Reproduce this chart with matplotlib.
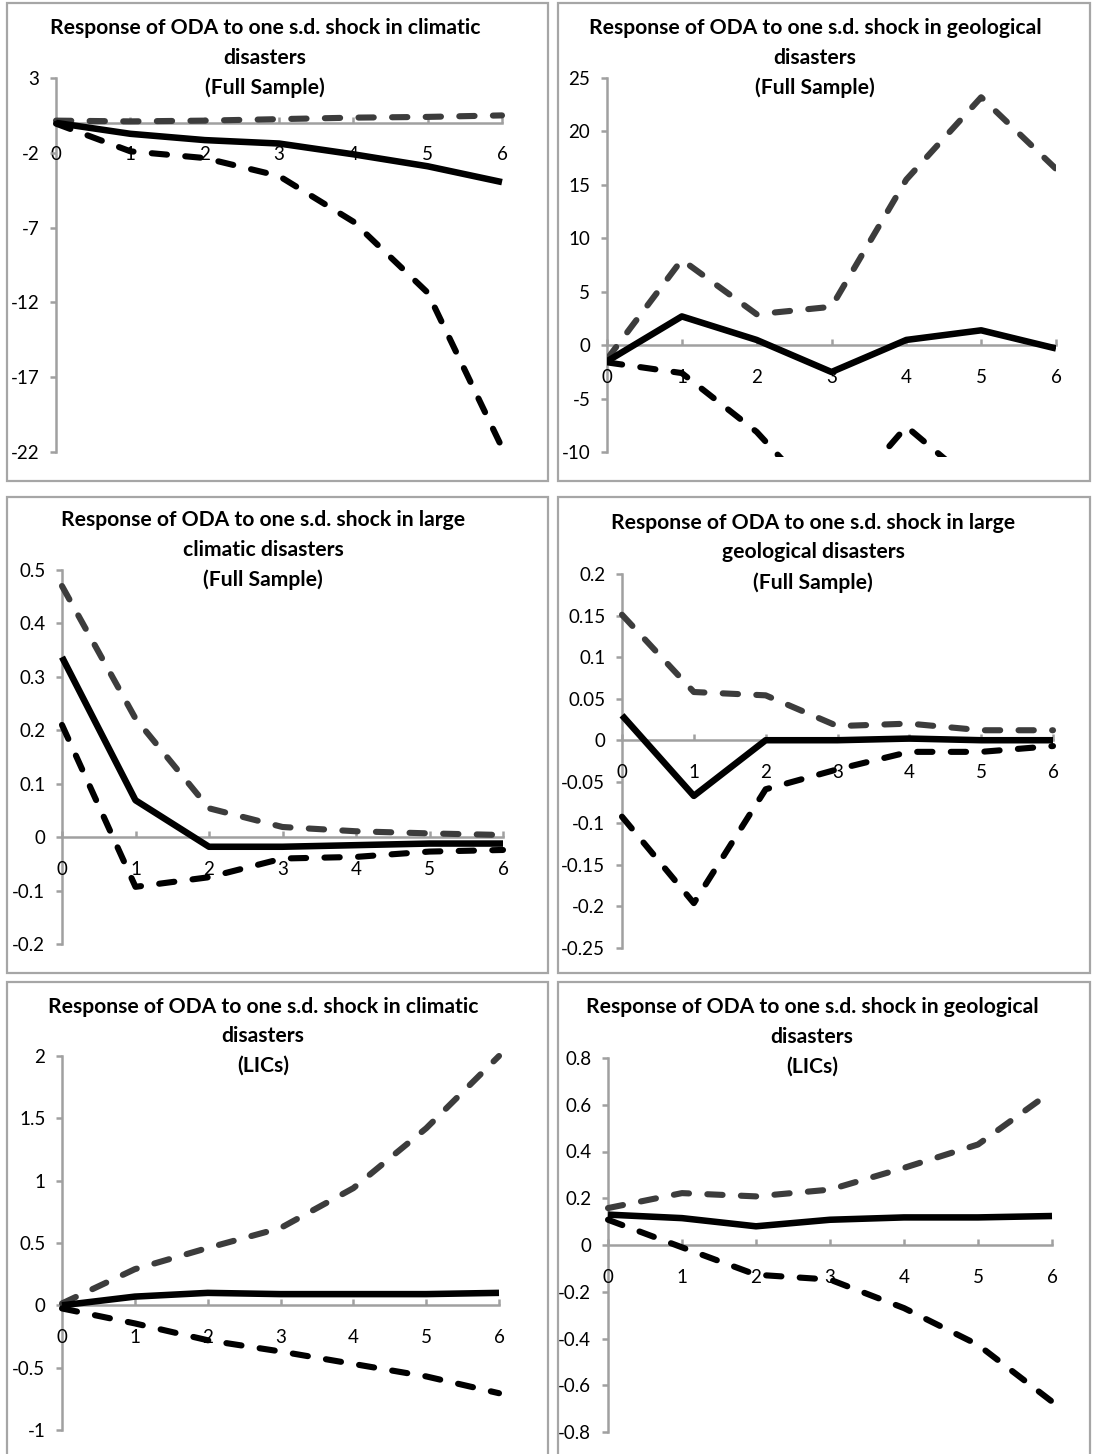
import matplotlib
matplotlib.use("Agg")
import matplotlib.pyplot as plt
from matplotlib.patches import Rectangle

plt.rcParams["font.family"] = ["Lato", "DejaVu Sans"]

W, H = 1093, 1454

# --- data ---
horizon = [0, 1, 2, 3, 4, 5, 6]

titles = [
    ["Response of ODA to one s.d. shock in climatic", "disasters", "(Full Sample)"],
    ["Response of ODA to one s.d. shock in geological", "disasters", "(Full Sample)"],
    ["Response of ODA to one s.d. shock in large", "climatic disasters", "(Full Sample)"],
    ["Response of ODA to one s.d. shock in large", "geological disasters", "(Full Sample)"],
    ["Response of ODA to one s.d. shock in climatic", "disasters", "(LICs)"],
    ["Response of ODA to one s.d. shock in geological", "disasters", "(LICs)"],
]

irf_clim_full = [0.0, -0.73, -1.15, -1.38, -2.1, -2.9, -3.96]
up_clim_full = [0.15, 0.1, 0.15, 0.25, 0.35, 0.4, 0.5]
lo_clim_full = [-0.05, -1.9, -2.35, -3.55, -6.6, -11.35, -21.7]

irf_geo_full = [-1.5, 2.7, 0.5, -2.5, 0.5, 1.4, -0.3]
up_geo_full = [-1.3, 8.0, 2.9, 3.6, 15.5, 23.2, 16.5]
lo_geo_full = [-1.6, -2.6, -8.1, -15.7, -7.6, -13.5, -17.0]

irf_lclim_full = [0.337, 0.069, -0.018, -0.018, -0.015, -0.012, -0.012]
up_lclim_full = [0.47, 0.222, 0.054, 0.019, 0.011, 0.007, 0.004]
lo_lclim_full = [0.21, -0.093, -0.075, -0.04, -0.037, -0.027, -0.024]

irf_lgeo_full = [0.03, -0.067, 0.0, 0.0, 0.002, 0.0, 0.0]
up_lgeo_full = [0.151, 0.058, 0.054, 0.017, 0.02, 0.012, 0.012]
lo_lgeo_full = [-0.092, -0.196, -0.059, -0.035, -0.014, -0.014, -0.007]

irf_clim_lic = [0.0, 0.07, 0.10, 0.09, 0.09, 0.09, 0.10]
up_clim_lic = [0.015, 0.29, 0.46, 0.62, 0.94, 1.42, 2.0]
lo_clim_lic = [-0.025, -0.145, -0.28, -0.37, -0.47, -0.57, -0.705]

irf_geo_lic = [0.13, 0.115, 0.08, 0.108, 0.118, 0.118, 0.124]
up_geo_lic = [0.158, 0.222, 0.208, 0.237, 0.33, 0.43, 0.658]
lo_geo_lic = [0.108, -0.01, -0.127, -0.148, -0.27, -0.427, -0.67]

yticks = [
    [3, -2, -7, -12, -17, -22],
    [25, 20, 15, 10, 5, 0, -5, -10],
    [0.5, 0.4, 0.3, 0.2, 0.1, 0, -0.1, -0.2],
    [0.2, 0.15, 0.1, 0.05, 0, -0.05, -0.1, -0.15, -0.2, -0.25],
    [2, 1.5, 1, 0.5, 0, -0.5, -1],
    [0.8, 0.6, 0.4, 0.2, 0, -0.2, -0.4, -0.6, -0.8],
]

series = [
    (irf_clim_full, up_clim_full, lo_clim_full),
    (irf_geo_full, up_geo_full, lo_geo_full),
    (irf_lclim_full, up_lclim_full, lo_lclim_full),
    (irf_lgeo_full, up_lgeo_full, lo_lgeo_full),
    (irf_clim_lic, up_clim_lic, lo_clim_lic),
    (irf_geo_lic, up_geo_lic, lo_geo_lic),
]

# --- layout in pixels ---
# panel boxes: (left, top, right, bottom)
boxes = [
    (7, 3, 548, 481), (558, 3, 1090, 481),
    (7, 497, 548, 973), (558, 497, 1090, 973),
    (7, 982, 548, 1460), (558, 982, 1090, 1460),
]
# axes: (x at 0, x at 6, y of top tick, y of bottom of plot area)
axes_px = [
    (56, 502, 78, 452), (607, 1056, 78, 457),
    (62, 503, 570, 944), (622, 1053, 574, 948),
    (62, 499, 1056, 1430), (608, 1052, 1058, 1432),
]
title_x = [265, 815, 263, 813, 263, 812]
title_y = [(28, 58, 88), (28, 58, 88), (520, 550, 580),
           (523, 552, 583), (1007, 1036, 1066), (1007, 1037, 1067)]

AXIS_GREY = "#a0a0a0"
BORDER_GREY = "#a6a6a6"

fig = plt.figure(figsize=(W / 100, H / 100), dpi=100)

for left, top, right, bottom in boxes:
    fig.add_artist(Rectangle((left / W, 1 - bottom / H), (right - left) / W,
                             (bottom - top) / H, transform=fig.transFigure,
                             fill=False, edgecolor=BORDER_GREY, linewidth=1.6))

for i, (irf, up, lo) in enumerate(series):
    x0, x6, ytop, ybot = axes_px[i]
    ax = fig.add_axes([x0 / W, 1 - ybot / H, (x6 - x0) / W, (ybot - ytop) / H])
    ticks = yticks[i]
    ymax, ymin = max(ticks), min(ticks)
    if i == 1:
        # lower band runs off the bottom of this panel
        ax.set_ylim(-10.45, ymax)
        clip = True
    else:
        ax.set_ylim(ymin, ymax)
        clip = False
    ax.set_xlim(0, 6)

    ax.plot(horizon, up, color="#3c3c3c", linewidth=4.4, linestyle=(0, (2.5, 3.0)),
            dash_capstyle="round", clip_on=clip, zorder=3)
    ax.plot(horizon, lo, color="#000000", linewidth=4.4, linestyle=(0, (2.5, 3.0)),
            dash_capstyle="round", clip_on=clip, zorder=3)
    ax.plot(horizon, irf, color="#000000", linewidth=4.7, solid_capstyle="butt",
            clip_on=clip, zorder=4)

    for s in ["top", "right"]:
        ax.spines[s].set_visible(False)
    ax.spines["left"].set_color(AXIS_GREY)
    ax.spines["left"].set_linewidth(1.8)
    ax.spines["left"].set_bounds(ymin, ymax)
    ax.spines["bottom"].set_color(AXIS_GREY)
    ax.spines["bottom"].set_linewidth(1.8)
    ax.spines["bottom"].set_position(("data", 0))
    ax.spines["left"].set_zorder(1)
    ax.spines["bottom"].set_zorder(1)
    ax.set_facecolor("none")

    ax.set_yticks(ticks)
    ax.set_yticklabels([f"{t:g}" for t in ticks])
    ax.set_xticks(horizon)
    ax.set_xticklabels([str(h) for h in horizon])
    ax.tick_params(axis="y", direction="out", length=4, width=1.8, color=AXIS_GREY,
                   pad=8, labelsize=13.5, labelcolor="black")
    ax.tick_params(axis="x", direction="in", length=4, width=1.8, color=AXIS_GREY,
                   pad=17, labelsize=13.5, labelcolor="black")

    for line, yy in zip(titles[i], title_y[i]):
        fig.text(title_x[i] / W, 1 - yy / H, line, ha="center", va="center",
                 fontsize=15.2, fontweight="bold")

fig.savefig("out.png", dpi=100)
